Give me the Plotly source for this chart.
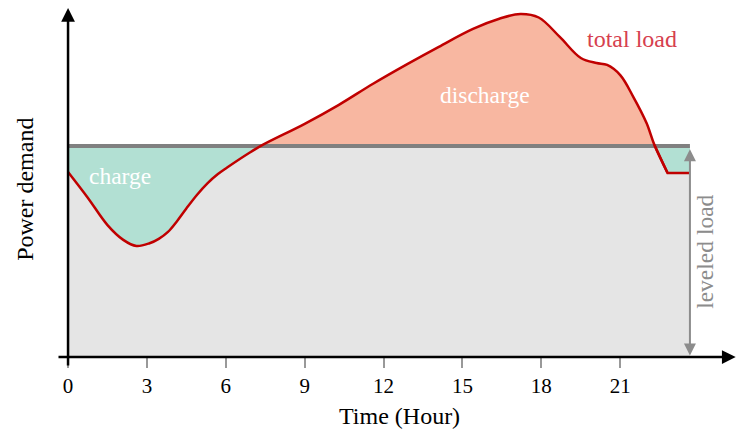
import plotly.graph_objects as go

# ---- data ----
hours = [0, 0.75, 1.5, 2.1, 2.6, 3.1, 3.45, 3.8, 4.15, 4.5, 4.9, 5.3, 5.7,
         6.05, 6.9, 7.4, 9.0, 10.3, 11.6, 12.9, 14.1, 15.4, 16.4, 17.2, 17.9,
         18.7, 19.5, 20.1, 20.5, 21.0, 21.5, 22.0, 22.3, 22.8, 23.65]
total_load = [87.7, 75.5, 62.5, 55.5, 52.6, 53.9, 56.0, 59.3, 64.5, 70.4,
              76.8, 82.3, 86.7, 89.8, 96.8, 100.5, 110.5, 119.5, 129.5, 138.8,
              147.0, 155.5, 160.3, 162.6, 160.9, 151.7, 141.7, 139.3, 138.4,
              133.6, 123.2, 110.9, 100.5, 87.2, 87.2]
leveled_load = 100
x_ticks = [0, 3, 6, 9, 12, 15, 18, 21]

# ---- layout constants ----
X_MIN, X_MAX = -0.42, 25.44
Y_MAX = 165.4
FONT = "Liberation Serif, Times New Roman, serif"
RED = "#c00000"
SALMON = "#f8b7a1"
GREEN = "#b2e0d3"
GRAY_FILL = "#e5e5e5"
LEVEL_GRAY = "#808080"
LABEL_GRAY = "#8c8c8c"
SMOOTH = 1.0

curve_x, curve_y = hours[:-1], total_load[:-1]
tail_x, tail_y = hours[-3:], total_load[-3:]
x_end = hours[-1]

fig = go.Figure()

# subplot 1: green (under level) + salmon (under load)
fig.add_trace(go.Scatter(x=[0, x_end], y=[leveled_load, leveled_load], fill="tozeroy",
                         fillcolor=GREEN, mode="lines", line=dict(width=0),
                         xaxis="x", yaxis="y", hoverinfo="skip"))
fig.add_trace(go.Scatter(x=curve_x, y=curve_y, fill="tozeroy", fillcolor=SALMON,
                         mode="lines", line=dict(width=0, shape="spline", smoothing=SMOOTH),
                         xaxis="x", yaxis="y", hoverinfo="skip"))
fig.add_trace(go.Scatter(x=tail_x, y=tail_y, fill="tozeroy", fillcolor=SALMON,
                         mode="lines", line=dict(width=0),
                         xaxis="x", yaxis="y", hoverinfo="skip"))

# subplot 2: gray area under min(load, level), clipped at the leveled load
fig.add_trace(go.Scatter(x=curve_x, y=curve_y, fill="tozeroy", fillcolor=GRAY_FILL,
                         mode="lines", line=dict(width=0, shape="spline", smoothing=SMOOTH),
                         xaxis="x2", yaxis="y2", hoverinfo="skip"))
fig.add_trace(go.Scatter(x=tail_x, y=tail_y, fill="tozeroy", fillcolor=GRAY_FILL,
                         mode="lines", line=dict(width=0),
                         xaxis="x2", yaxis="y2", hoverinfo="skip"))

# subplot 3: level line and the total load line
fig.add_trace(go.Scatter(x=[0, x_end], y=[leveled_load, leveled_load], mode="lines",
                         line=dict(color=LEVEL_GRAY, width=4),
                         xaxis="x3", yaxis="y3", hoverinfo="skip"))
fig.add_trace(go.Scatter(x=curve_x, y=curve_y, mode="lines",
                         line=dict(color=RED, width=2.5, shape="spline", smoothing=SMOOTH),
                         xaxis="x3", yaxis="y3", hoverinfo="skip"))
fig.add_trace(go.Scatter(x=tail_x, y=tail_y, mode="lines",
                         line=dict(color=RED, width=2.5),
                         xaxis="x3", yaxis="y3", hoverinfo="skip"))

hidden = dict(visible=False, fixedrange=True)
fig.update_layout(
    width=737, height=433,
    margin=dict(l=57, r=0, t=8, b=76),
    paper_bgcolor="white", plot_bgcolor="rgba(0,0,0,0)",
    showlegend=False,
    font=dict(family=FONT, color="black"),
    xaxis=dict(range=[X_MIN, X_MAX], domain=[0, 1], tickvals=x_ticks,
               ticktext=[str(t) for t in x_ticks],
               ticks="outside", ticklen=10, tickwidth=2, tickcolor="#999999",
               showgrid=False, zeroline=False, showline=False, fixedrange=True,
               tickfont=dict(family=FONT, size=21, color="black")),
    yaxis=dict(range=[0, Y_MAX], domain=[0, 1], **hidden),
    xaxis2=dict(range=[X_MIN, X_MAX], domain=[0, 1], anchor="y2", **hidden),
    yaxis2=dict(range=[0, leveled_load], domain=[0, leveled_load / Y_MAX],
                anchor="x2", **hidden),
    xaxis3=dict(range=[X_MIN, X_MAX], domain=[0, 1], anchor="y3", **hidden),
    yaxis3=dict(range=[0, Y_MAX], domain=[0, 1], anchor="x3", **hidden),
)

ann = []
# axes arrows
ann.append(dict(x=0, y=Y_MAX, ax=0, ay=-4.7, xref="x", yref="y", axref="x", ayref="y",
                showarrow=True, arrowhead=2, arrowsize=1.1, arrowwidth=2.5,
                arrowcolor="black", text=""))
ann.append(dict(x=X_MAX - 0.05, y=0, ax=X_MIN, ay=0, xref="x", yref="y", axref="x",
                ayref="y", showarrow=True, arrowhead=2, arrowsize=1.1, arrowwidth=2.5,
                arrowcolor="black", text=""))
# leveled load double arrow
ann.append(dict(x=x_end, y=leveled_load - 1.5, ax=x_end, ay=0, xref="x", yref="y",
                axref="x", ayref="y", showarrow=True, arrowhead=2, startarrowhead=2,
                arrowside="end+start", arrowsize=1.2, startarrowsize=1.2, arrowwidth=2,
                arrowcolor=LABEL_GRAY, text=""))
# labels
label_common = dict(showarrow=False, xanchor="center", yanchor="middle")
ann.append(dict(x=1.98, y=85.8, xref="x", yref="y", text="charge",
                font=dict(family=FONT, size=23.5, color="white"), **label_common))
ann.append(dict(x=15.86, y=124.2, xref="x", yref="y", text="discharge",
                font=dict(family=FONT, size=23.5, color="white"), **label_common))
ann.append(dict(x=21.44, y=150.7, xref="x", yref="y", text="total load",
                font=dict(family=FONT, size=24, color="#d6404e"), **label_common))
ann.append(dict(x=24.22, y=49.8, xref="x", yref="y", text="leveled load", textangle=-90,
                font=dict(family=FONT, size=23.5, color=LABEL_GRAY), **label_common))
ann.append(dict(x=12.59, y=-0.169, xref="x", yref="paper", text="Time (Hour)",
                font=dict(family=FONT, size=24, color="black"), **label_common))
ann.append(dict(x=-0.047, y=0.479, xref="paper", yref="paper", text="Power demand",
                textangle=-90, font=dict(family=FONT, size=24, color="black"),
                **label_common))
fig.update_layout(annotations=ann)

fig.write_html("out.html", config={"displayModeBar": False})

# remove the default page margin so the figure sits at the window's top-left corner
with open("out.html", "r", encoding="utf-8") as f:
    html = f.read()
html = html.replace("<head>", "<head><style>html,body{margin:0;padding:0;overflow:hidden;}</style>", 1)
with open("out.html", "w", encoding="utf-8") as f:
    f.write(html)
